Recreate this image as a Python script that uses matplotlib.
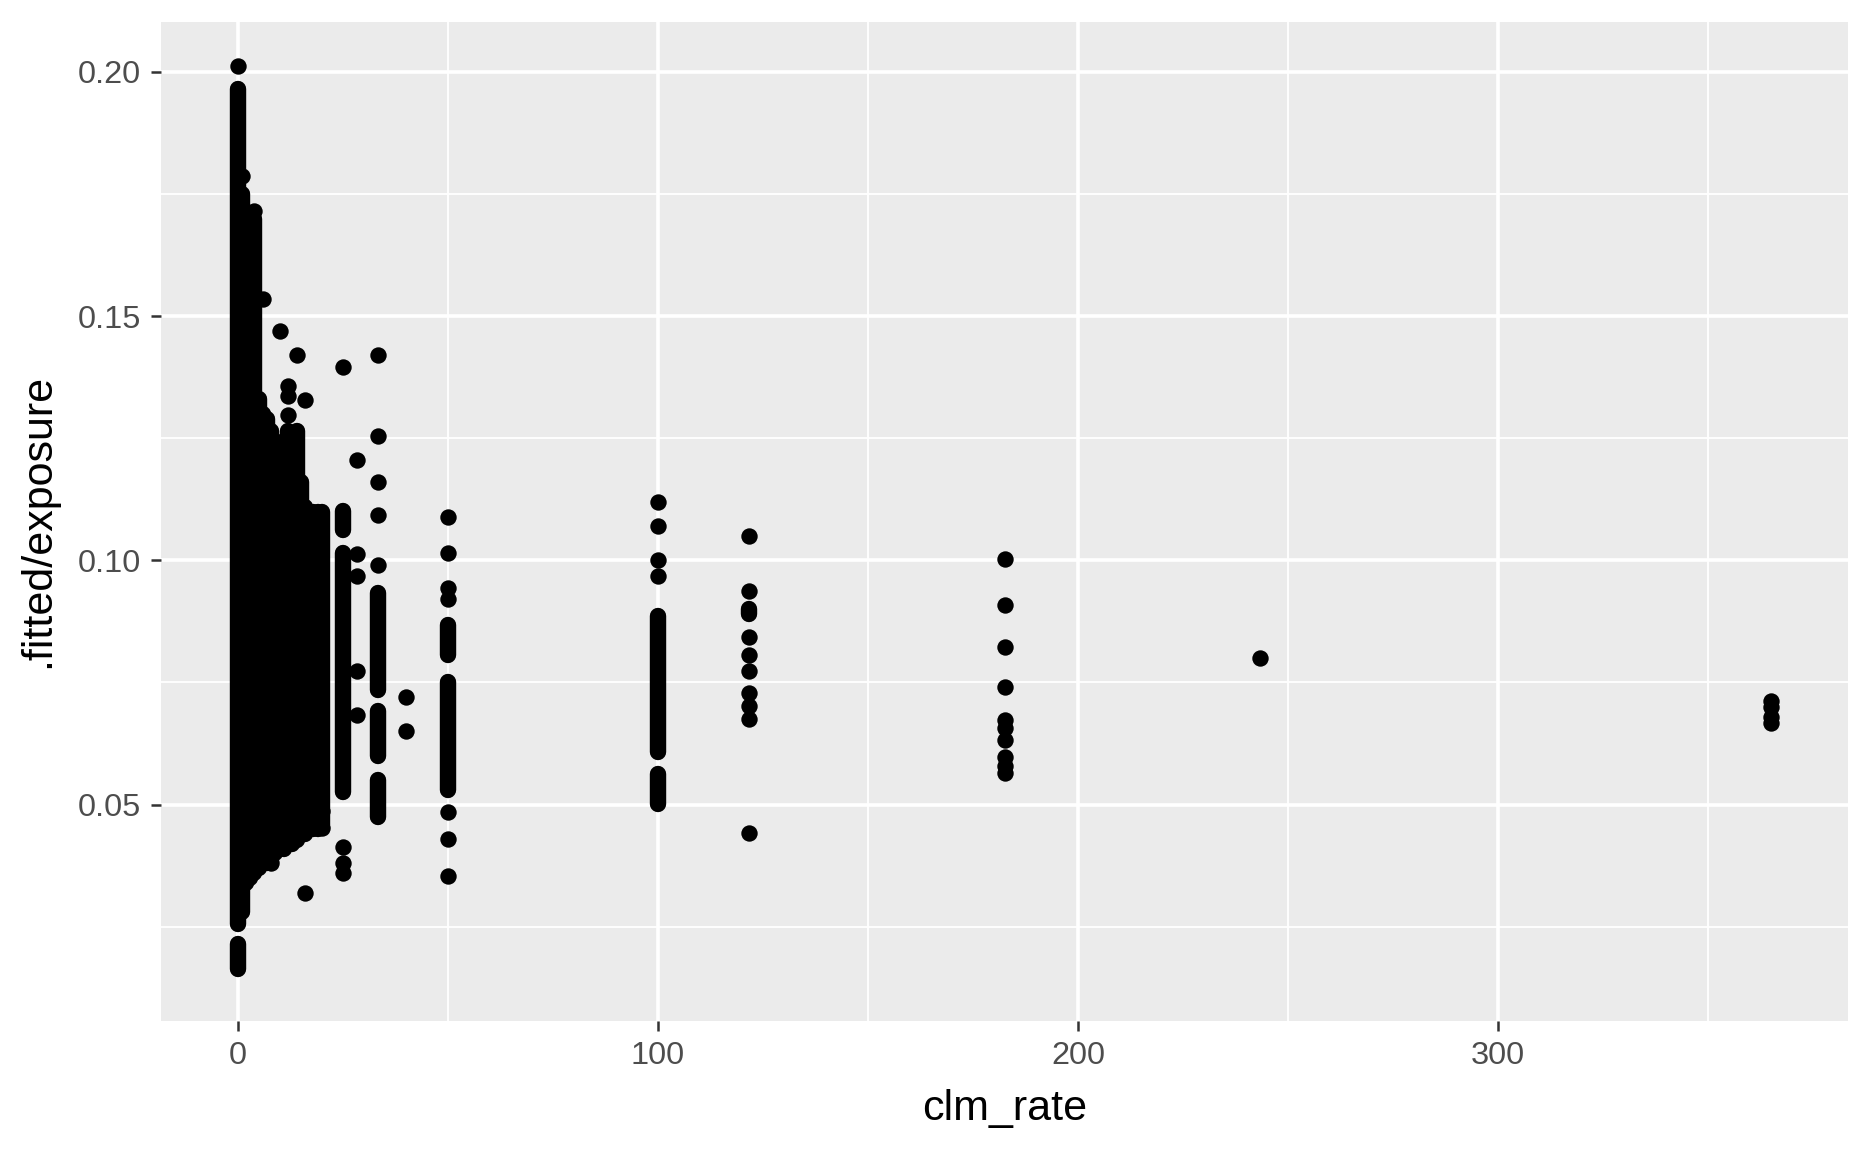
import matplotlib
matplotlib.use("Agg")
import matplotlib.pyplot as plt

plt.rcParams['font.family'] = ['Liberation Sans', 'DejaVu Sans']

# dense stacks of overlapping points: x, lowest and highest point centre
seg_x = [0, 0, 1, 2, 3, 4, 5, 6, 7, 8, 9, 10, 11, 12, 13, 14, 15, 16, 17, 18, 19, 20,
         25, 25, 33.3, 33.3, 33.3, 50, 50, 100, 100, 121.7]
seg_lo = [0.0163, 0.0255, 0.028, 0.034, 0.035, 0.036, 0.037, 0.038, 0.038, 0.038, 0.040,
          0.041, 0.041, 0.042, 0.042, 0.0428, 0.044, 0.044, 0.045, 0.045, 0.045, 0.0452,
          0.1062, 0.0526, 0.0734, 0.0600, 0.0475, 0.0806, 0.0530, 0.0608, 0.0502, 0.0890]
seg_hi = [0.0215, 0.1965, 0.175, 0.171, 0.170, 0.1698, 0.133, 0.130, 0.129, 0.1265, 0.124,
          0.1235, 0.1245, 0.1265, 0.123, 0.1265, 0.116, 0.111, 0.110, 0.110, 0.110, 0.1098,
          0.1101, 0.1016, 0.0934, 0.0692, 0.0551, 0.0868, 0.0750, 0.0886, 0.0563, 0.0900]

# single points
pt_x = [0, 1, 4, 6, 10, 14, 33.3, 25, 12, 12, 16, 12, 28.3,
        33.3, 33.3, 33.3, 33.3, 28.3, 28.3, 28.3, 28.3, 40, 40, 16, 8, 20, 20,
        25, 25, 25,
        50, 50, 50, 50, 50, 50, 50,
        100, 100, 100, 100,
        121.7, 121.7, 121.7, 121.7, 121.7, 121.7, 121.7, 121.7, 121.7,
        182.5, 182.5, 182.5, 182.5, 182.5, 182.5, 182.5, 182.5, 182.5, 182.5,
        243.3,
        365, 365, 365, 365]
pt_y = [0.2013, 0.1786, 0.1715, 0.1536, 0.1469, 0.1420, 0.1420, 0.1396, 0.1357, 0.1336, 0.1329, 0.1297, 0.1206,
        0.1254, 0.1160, 0.1092, 0.0990, 0.1014, 0.0967, 0.0773, 0.0684, 0.0721, 0.0650, 0.0319, 0.0380, 0.0486, 0.0452,
        0.0414, 0.0380, 0.0360,
        0.1088, 0.1015, 0.0944, 0.0921, 0.0485, 0.0430, 0.0353,
        0.1119, 0.1070, 0.1000, 0.0969,
        0.1049, 0.0937, 0.0844, 0.0806, 0.0773, 0.0729, 0.0701, 0.0676, 0.0442,
        0.1002, 0.0909, 0.0822, 0.0740, 0.0674, 0.0657, 0.0633, 0.0597, 0.0580, 0.0565,
        0.0801,
        0.0712, 0.0700, 0.0680, 0.0667]

x_ticks = [0, 100, 200, 300]
x_minor = [50, 150, 250, 350]
y_ticks = [0.05, 0.10, 0.15, 0.20]
y_minor = [0.025, 0.075, 0.125, 0.175]

fig = plt.figure(figsize=(9.36, 5.76), dpi=200)
ax = fig.add_axes([0.0860, 0.1137, 0.9012, 0.8676])
ax.set_facecolor('#EBEBEB')

dot = 5.9  # point diameter in pt
lc = ax.vlines(seg_x, seg_lo, seg_hi, colors='black', linewidth=dot, zorder=3)
lc.set_capstyle('round')
ax.scatter(pt_x, pt_y, s=dot ** 2, color='black', linewidths=0, zorder=4)

ax.set_xlim(-18.25, 383.25)
ax.set_ylim(0.0057, 0.2103)
ax.set_xticks(x_ticks)
ax.set_xticks(x_minor, minor=True)
ax.set_yticks(y_ticks)
ax.set_yticks(y_minor, minor=True)
ax.set_xticklabels([str(v) for v in x_ticks])
ax.set_yticklabels([f"{v:.2f}" for v in y_ticks])

ax.grid(which='major', color='white', linewidth=1.3, zorder=0)
ax.grid(which='minor', color='white', linewidth=0.65, zorder=0)
ax.set_axisbelow(True)
for s in ax.spines.values():
    s.set_visible(False)

ax.tick_params(which='major', length=3.7, width=0.9, color='#333333',
               labelsize=11.7, labelcolor='#4D4D4D', pad=3.4)
ax.tick_params(which='minor', length=0)

ax.set_xlabel('clm_rate', fontsize=15.5, color='black', labelpad=6.5)
ax.set_ylabel('.fitted/exposure', fontsize=15.5, color='black', labelpad=7)

fig.savefig('out.png', dpi=200)
